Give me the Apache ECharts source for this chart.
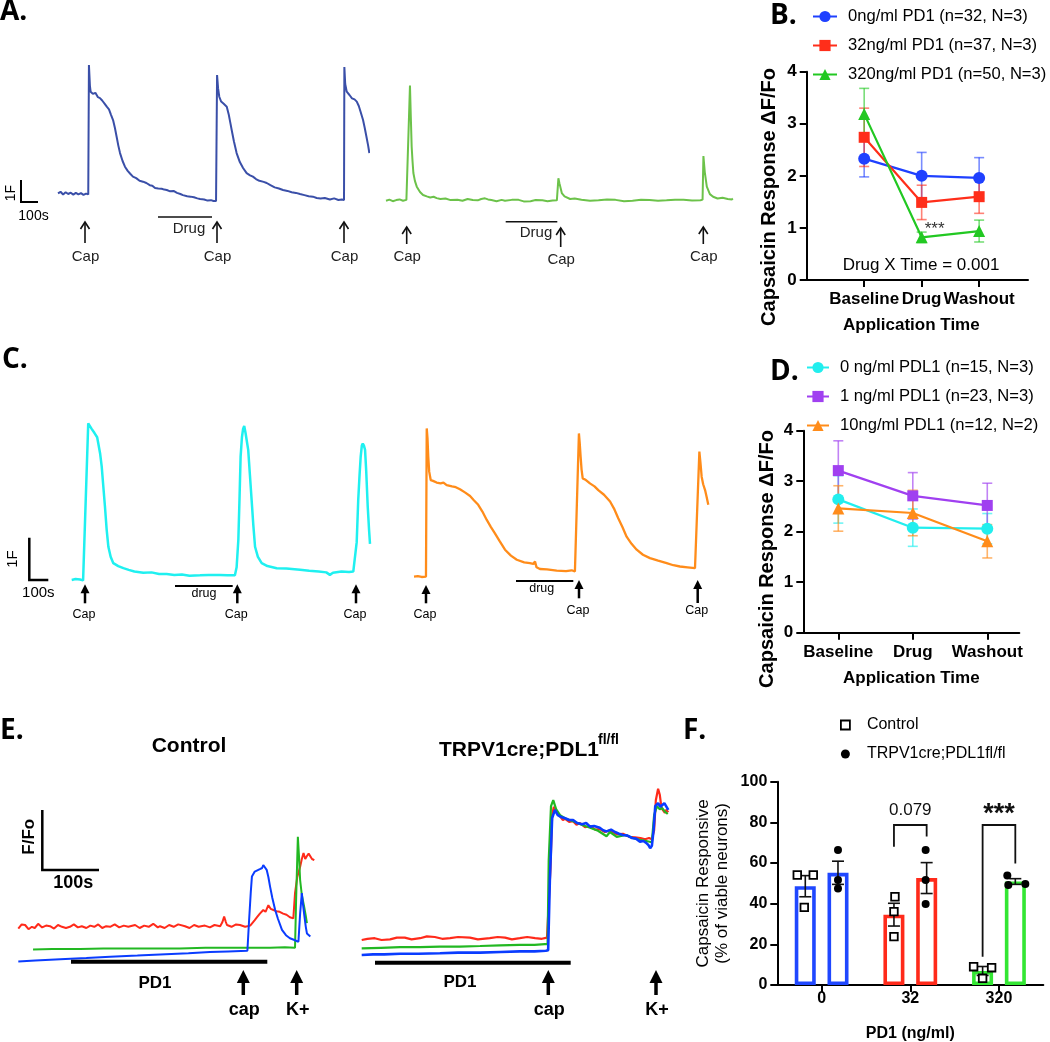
<!DOCTYPE html>
<html><head><meta charset="utf-8">
<script src="https://cdn.jsdelivr.net/npm/echarts@6/dist/echarts.min.js"></script>
<style>html,body{margin:0;padding:0;background:#fff}#c{width:1050px;height:1042px}</style>
</head><body><div id="c"></div><script>
// ---------------- DATA ----------------
// Panel A: calcium traces [time s, dF]
const aBlueTrace = [[0,0.03],[15,0.1],[30,-0.02],[45,0.08],[60,0.0],[75,0.06],[90,-0.03],[105,0.05],[120,-0.02],[135,0.04],[150,-0.04],[165,0.02],[178,-0.02],[182,5.86],[188,4.9],[192,4.65],[205,4.55],[220,4.6],[235,4.4],[247,4.36],[260,4.25],[275,4.1],[287,3.97],[300,3.85],[312,3.6],[324,3.36],[335,3.0],[345,2.6],[355,2.2],[365,1.86],[380,1.5],[394,1.24],[410,1.05],[425,0.92],[441,0.79],[460,0.72],[480,0.6],[500,0.56],[520,0.5],[540,0.4],[555,0.38],[571,0.27],[590,0.25],[610,0.24],[625,0.2],[640,0.18],[660,0.12],[680,0.14],[700,0.05],[720,0.0],[735,-0.05],[760,-0.1],[780,-0.12],[800,-0.15],[820,-0.2],[836,-0.23],[860,-0.25],[880,-0.3],[900,-0.28],[915,-0.32],[930,-0.32],[936,5.41],[942,4.8],[949,4.42],[960,4.2],[975,4.1],[993,3.97],[1005,3.6],[1015,3.2],[1022,2.91],[1035,2.4],[1051,1.86],[1070,1.45],[1089,1.18],[1110,0.95],[1130,0.85],[1147,0.79],[1165,0.68],[1185,0.6],[1210,0.55],[1228,0.5],[1250,0.4],[1275,0.3],[1300,0.25],[1324,0.18],[1350,0.14],[1375,0.08],[1400,0.05],[1424,0.0],[1450,-0.05],[1475,-0.1],[1500,-0.12],[1522,-0.18],[1545,-0.2],[1570,-0.18],[1600,-0.25],[1625,-0.2],[1650,-0.27],[1670,-0.25],[1683,-0.27],[1685,5.77],[1690,5.0],[1699,4.65],[1715,4.5],[1730,4.35],[1745,4.3],[1758,4.2],[1770,4.0],[1780,3.75],[1795,3.36],[1805,3.0],[1815,2.6],[1825,2.2],[1832,1.86]];
const aGreenTrace = [[0,0.0],[20,0.05],[40,-0.02],[60,0.03],[80,0.06],[100,0.0],[120,0.04],[131,0.01],[141,5.23],[146,3.8],[151,2.45],[156,1.8],[161,1.26],[170,0.9],[181,0.64],[200,0.4],[218,0.26],[240,0.2],[260,0.15],[280,0.18],[298,0.12],[320,0.08],[350,0.1],[380,0.03],[420,0.05],[450,0.0],[480,0.08],[510,0.03],[540,0.02],[560,0.08],[582,0.11],[600,0.06],[620,0.03],[650,-0.02],[680,0.04],[700,0.0],[740,0.04],[780,0.04],[810,-0.03],[850,-0.02],[880,0.03],[920,0.02],[950,-0.02],[980,0.01],[1005,0.02],[1010,0.05],[1014,1.02],[1020,0.8],[1034,0.35],[1050,0.2],[1083,0.08],[1110,0.1],[1150,0.05],[1200,0.0],[1250,0.02],[1300,0.06],[1350,0.04],[1400,-0.02],[1450,0.0],[1500,0.05],[1550,0.03],[1600,0.0],[1650,0.02],[1700,0.05],[1750,0.04],[1800,0.01],[1850,0.02],[1862,0.05],[1867,2.03],[1875,1.3],[1887,0.64],[1905,0.3],[1924,0.18],[1950,0.1],[1980,0.14],[2010,0.08],[2034,0.06],[2040,0.1]];
// Panel C traces
const cCyanTrace = [[0,0],[20,0.02],[44,0.01],[60,-0.01],[70,0],[87,3.73],[96,3.69],[105,3.6],[114,3.61],[120,3.5],[128,3.52],[134,3.4],[140,3.25],[150,3.0],[158,2.7],[166,2.25],[175,1.75],[184,1.2],[193,0.79],[205,0.55],[219,0.4],[245,0.33],[272,0.28],[300,0.24],[330,0.2],[377,0.17],[420,0.18],[460,0.14],[500,0.14],[540,0.12],[580,0.13],[620,0.1],[675,0.11],[720,0.12],[780,0.12],[820,0.11],[859,0.11],[868,0.3],[877,0.95],[883,1.9],[889,2.94],[896,3.4],[902,3.6],[908,3.67],[915,3.5],[922,3.3],[929,3.1],[938,2.5],[947,1.9],[956,1.3],[965,0.79],[980,0.55],[1000,0.4],[1030,0.33],[1079,0.28],[1130,0.27],[1202,0.24],[1250,0.22],[1300,0.2],[1340,0.18],[1359,0.12],[1375,0.17],[1420,0.2],[1460,0.19],[1482,0.2],[1491,0.2],[1500,0.9],[1508,1.9],[1515,2.5],[1521,2.94],[1527,3.2],[1532,3.25],[1538,3.2],[1544,3.1],[1550,2.6],[1558,1.75],[1565,1.2],[1570,0.86]];
const cOrangeTrace = [[0,0],[20,0.01],[40,-0.01],[63,0],[67,3.53],[71,3.3],[75,2.86],[80,2.5],[88,2.3],[100,2.28],[119,2.24],[140,2.22],[155,2.24],[172,2.18],[200,2.15],[220,2.13],[242,2.08],[270,2.0],[295,1.92],[315,1.82],[338,1.71],[360,1.55],[383,1.35],[405,1.18],[426,1.03],[450,0.85],[479,0.64],[510,0.5],[541,0.4],[580,0.34],[610,0.32],[628,0.3],[637,0.36],[645,0.22],[663,0.18],[700,0.17],[751,0.14],[800,0.13],[830,0.15],[847,0.12],[856,0.14],[868,3.41],[872,3.2],[877,2.86],[882,2.55],[888,2.34],[905,2.3],[926,2.22],[950,2.15],[970,2.06],[1000,1.95],[1032,1.79],[1055,1.6],[1075,1.39],[1097,1.18],[1119,0.95],[1145,0.78],[1172,0.64],[1205,0.52],[1242,0.44],[1285,0.38],[1330,0.32],[1365,0.27],[1400,0.24],[1440,0.22],[1479,0.2],[1488,0.21],[1502,2.98],[1508,2.7],[1514,2.38],[1522,2.2],[1532,2.06],[1540,1.9],[1549,1.71]];
// Panel E traces [time s, F/Fo (offset)]
const eCtrlRed = [[0,0.69],[6,0.76],[12,0.75],[18,0.68],[24,0.72],[29,0.7],[35,0.77],[42,0.71],[49,0.74],[56,0.73],[63,0.69],[70,0.75],[77,0.72],[84,0.7],[91,0.72],[98,0.76],[105,0.71],[112,0.73],[120,0.7],[127,0.74],[134,0.72],[141,0.76],[148,0.7],[155,0.73],[162,0.72],[170,0.76],[178,0.71],[186,0.74],[194,0.72],[206,0.75],[214,0.7],[222,0.74],[230,0.72],[238,0.77],[246,0.71],[250,0.73],[258,0.7],[266,0.75],[274,0.72],[282,0.76],[294,0.73],[302,0.7],[310,0.75],[318,0.72],[329,0.74],[338,0.71],[346,0.75],[356,0.73],[360,0.8],[363,0.89],[366,0.8],[368,0.75],[376,0.72],[384,0.76],[391,0.75],[400,0.72],[409,0.74],[417,0.83],[421,0.88],[426,0.94],[432,1.0],[436,0.97],[441,1.08],[445,1.02],[450,1.0],[455,0.98],[461,0.97],[467,0.94],[473,0.92],[479,0.88],[485,0.86],[488,1.28],[492,1.55],[497,1.72],[500,1.85],[503,1.95],[506,1.85],[509,1.9],[512,1.94],[515,1.92],[518,1.85],[522,1.83]];
const eCtrlGreen = [[26,0.34],[60,0.35],[109,0.35],[150,0.36],[197,0.36],[240,0.36],[285,0.36],[330,0.37],[374,0.37],[410,0.37],[444,0.37],[470,0.38],[488,0.37],[490,1.2],[493,2.22],[495,1.9],[497,1.5],[500,1.25],[504,1.06],[507,0.9],[509,0.78]];
const eCtrlBlue = [[0,0.14],[30,0.16],[74,0.18],[120,0.2],[162,0.22],[210,0.24],[250,0.26],[300,0.28],[338,0.3],[370,0.31],[404,0.32],[407,0.83],[410,1.3],[412,1.56],[417,1.64],[420,1.62],[426,1.68],[430,1.7],[432,1.75],[435,1.72],[438,1.67],[441,1.55],[444,1.39],[448,1.2],[453,1.0],[458,0.85],[465,0.67],[472,0.58],[479,0.53],[487,0.5],[494,0.47],[497,0.94],[500,1.28],[502,1.1],[504,0.94],[507,0.72],[509,0.61],[512,0.58],[515,0.56]];
const eKoRed = [[0,0.5],[10,0.52],[23,0.53],[35,0.5],[50,0.51],[62,0.54],[76,0.54],[88,0.51],[103,0.53],[115,0.56],[129,0.55],[142,0.52],[156,0.53],[170,0.55],[191,0.54],[205,0.51],[226,0.53],[240,0.55],[253,0.54],[265,0.51],[279,0.53],[292,0.55],[306,0.53],[318,0.52],[327,0.54],[330,0.53],[333,1.67],[336,2.58],[339,2.72],[343,2.63],[347,2.6],[350,2.57],[355,2.5],[359,2.52],[366,2.47],[373,2.48],[379,2.42],[385,2.45],[394,2.38],[403,2.4],[412,2.34],[420,2.35],[429,2.3],[438,2.33],[450,2.26],[461,2.27],[472,2.22],[482,2.21],[492,2.2],[500,2.18],[507,2.2],[512,2.18],[516,2.33],[519,2.83],[523,3.02],[526,2.92],[529,2.7],[532,2.73],[535,2.62],[537,2.67],[541,2.63]];
const eKoGreen = [[0,0.36],[34,0.37],[68,0.38],[103,0.38],[138,0.39],[173,0.39],[209,0.4],[244,0.41],[279,0.42],[305,0.42],[323,0.43],[328,0.43],[330,1.83],[334,2.73],[338,2.83],[343,2.68],[350,2.58],[360,2.52],[373,2.48],[388,2.42],[403,2.37],[417,2.32],[432,2.23],[438,2.3],[450,2.22],[466,2.25],[478,2.2],[491,2.17],[502,2.15],[512,2.13],[516,2.58],[521,2.73],[526,2.68],[530,2.7],[535,2.64],[540,2.6]];
const eKoBlue = [[0,0.25],[20,0.26],[40,0.26],[68,0.27],[100,0.27],[138,0.28],[170,0.29],[209,0.29],[245,0.3],[279,0.31],[305,0.31],[325,0.32],[329,0.33],[332,1.5],[336,2.53],[341,2.67],[346,2.58],[352,2.55],[359,2.53],[366,2.5],[373,2.5],[380,2.45],[389,2.43],[396,2.45],[403,2.39],[410,2.4],[420,2.37],[426,2.33],[432,2.31],[440,2.34],[447,2.3],[454,2.27],[461,2.25],[469,2.24],[477,2.2],[484,2.19],[491,2.14],[497,2.15],[502,2.12],[506,2.08],[509,2.03],[512,2.07],[515,2.33],[518,2.73],[523,2.78],[527,2.72],[530,2.73],[534,2.78],[537,2.75],[541,2.67]];

// Panel B
const timeLabels = ['Baseline','Drug','Washout'];
const pd1Names = ['0ng/ml PD1 (n=32, N=3)','32ng/ml PD1 (n=37, N=3)','320ng/ml PD1 (n=50, N=3)'];
const bMean0 = [2.33, 2.00, 1.96];
const bSem0 = [0.35, 0.45, 0.39];
const bMean32 = [2.74, 1.49, 1.60];
const bSem32 = [0.56, 0.33, 0.32];
const bMean320 = [3.19, 0.82, 0.94];
const bSem320 = [0.49, 0.10, 0.21];
// Panel D
const pdl1Names = ['0 ng/ml PDL1 (n=15, N=3)','1 ng/ml PDL1 (n=23, N=3)','10ng/ml PDL1 (n=12, N=2)'];
const dMean0 = [2.64, 2.08, 2.06];
const dSem0 = [0.47, 0.37, 0.30];
const dMean1 = [3.21, 2.71, 2.52];
const dSem1 = [0.59, 0.46, 0.44];
const dMean10 = [2.46, 2.37, 1.81];
const dSem10 = [0.45, 0.45, 0.33];
// Panel F
const doseLabels = ['0','32','320'];
const fGroupNames = ['Control','TRPV1cre;PDL1fl/fl'];
const fCtrlMean = [48.6, 34.6, 6.9];
const fCtrlSem = [5.2, 5.6, 2.2];
const fKoMean = [55.2, 52.6, 50.9];
const fKoSem = [5.7, 7.6, 1.4];
const fCtrlPts = [[54.1,54.1,38.2],[43.4,36.1,23.8],[9.0,8.5,3.3]];
const fKoPts = [[66.4,51.6,47.5],[66.4,51.6,39.8],[53.8,49.2,49.7]];
const fBracketCat = [1, 2];
const fBracketTop = [78.7, 78.7];
const fBracketLeftEnd = [68, 13.9];
const fBracketRightEnd = [73, 59.8];
const fBracketText = ['0.079','***'];

// ---------------- LAYOUT / STYLE ----------------
const FF = "'Liberation Sans', Arial, Helvetica, sans-serif";
const fCtrlJitter = [[-8,8,-1],[1,0,0],[-9,9,0]];
const fKoJitter = [[0,0,0],[-1,-1,-1],[-8,-7,10]];
const fBarHalf = 16.35;
const fColors = ['#1f47ff','#ff2a1a','#33e633'];
const bColors = ['#1f40ff','#ff2e1a','#22c822'];
const dColors = ['#22eeee','#a040f0','#ff8c1a'];

const chart = echarts.init(document.getElementById('c'), null, {renderer:'canvas', width:1050, height:1042});

const grids = [
  {left:58, top:62, width:311, height:143},
  {left:386, top:62, width:347, height:148},
  {left:806.7, top:71.7, width:221.3, height:208.3},
  {left:71.7, top:415, width:298.3, height:175},
  {left:414, top:415, width:294.3, height:175},
  {left:803.3, top:430.7, width:216, height:202},
  {left:18.3, top:780, width:296, height:190},
  {left:361.7, top:780, width:306.6, height:190},
  {left:777.3, top:781.7, width:266, height:203.3}
].map(g => Object.assign({outerBoundsMode:'none', containLabel:false}, g));

function hiddenX(min, max){ return {type:'value', min, max, show:false}; }
function hiddenY(min, max){ return {type:'value', min, max, show:false}; }
const axLine = {show:true, onZero:false, lineStyle:{color:'#000', width:2}};
const axTick = {show:true, length:7, lineStyle:{color:'#000', width:2}};
const boldLbl = {color:'#000', fontSize:17, fontWeight:'bold', fontFamily:FF};

function timeAxis(gi, min, max, nameGap, pad){
  return {type:'value', gridIndex:gi, min, max, interval:1,
    axisLine:axLine, splitLine:{show:false},
    axisTick:Object.assign({customValues:[1,2,3]}, axTick),
    axisLabel:Object.assign({customValues:[1,2,3], margin:11,
      formatter:v => timeLabels[Math.round(v)-1] || ''}, boldLbl),
    name:'Application Time', nameLocation:'middle', nameGap,
    nameTextStyle:Object.assign({padding:pad}, boldLbl)};
}
function respAxis(gi){
  return {type:'value', gridIndex:gi, min:0, max:4, interval:1,
    axisLine:axLine, axisTick:axTick, splitLine:{show:false},
    axisLabel:Object.assign({margin:10}, boldLbl)};
}

const xAxes = [
  Object.assign(hiddenX(0,1830),{gridIndex:0}),
  Object.assign(hiddenX(0,2041),{gridIndex:1}),
  timeAxis(2, 0, 3.85, 37, [0,12,0,0]),
  Object.assign(hiddenX(0,1570),{gridIndex:3}),
  Object.assign(hiddenX(0,1549),{gridIndex:4}),
  timeAxis(5, 0.53, 3.43, 37, [0,0,0,0]),
  Object.assign(hiddenX(0,522),{gridIndex:6}),
  Object.assign(hiddenX(0,541),{gridIndex:7}),
  {type:'category', gridIndex:8, data:doseLabels, boundaryGap:true,
   axisLine:axLine, axisTick:Object.assign({alignWithLabel:true}, axTick),
   axisLabel:Object.assign({margin:6}, boldLbl, {fontSize:16}),
   name:'PD1 (ng/ml)', nameLocation:'middle', nameGap:41,
   nameTextStyle:Object.assign({}, boldLbl, {fontSize:16})}
];
const yAxes = [
  Object.assign(hiddenY(-0.5,6.0),{gridIndex:0}),
  Object.assign(hiddenY(-0.42,6.3),{gridIndex:1}),
  respAxis(2),
  Object.assign(hiddenY(-0.24,3.93),{gridIndex:3}),
  Object.assign(hiddenY(-0.32,3.85),{gridIndex:4}),
  respAxis(5),
  Object.assign(hiddenY(0,3.1667),{gridIndex:6}),
  Object.assign(hiddenY(0,3.1667),{gridIndex:7}),
  {type:'value', gridIndex:8, min:0, max:100, interval:20,
   axisLine:axLine, axisTick:axTick, splitLine:{show:false},
   axisLabel:Object.assign({margin:10}, boldLbl, {fontSize:16}),
   name:'Capsaicin Responsive\n(% of viable neurons)', nameLocation:'middle', nameGap:45,
   nameTextStyle:{color:'#000', fontSize:17, fontFamily:FF, lineHeight:19, fontWeight:500}}
];

function trace(gi, data, color, width){
  return {type:'line', xAxisIndex:gi, yAxisIndex:gi, data, showSymbol:false, symbol:'none',
    silent:true, lineStyle:{color, width}, itemStyle:{color}, z:3};
}

function errRender(color, capHalf, lw){
  return function(params, api){
    const x = api.value(0), m = api.value(1), e = api.value(2);
    const pt = api.coord([x, m + e]), pb = api.coord([x, m - e]);
    const st = {stroke:color, lineWidth:lw};
    return {type:'group', children:[
      {type:'line', shape:{x1:pt[0], y1:pt[1], x2:pb[0], y2:pb[1]}, style:st},
      {type:'line', shape:{x1:pt[0]-capHalf, y1:pt[1], x2:pt[0]+capHalf, y2:pt[1]}, style:st},
      {type:'line', shape:{x1:pb[0]-capHalf, y1:pb[1], x2:pb[0]+capHalf, y2:pb[1]}, style:st}
    ]};
  };
}
function errSeries(gi, means, sems, color){
  return {type:'custom', xAxisIndex:gi, yAxisIndex:gi, silent:true, z:2,
    renderItem:errRender(color, 5, 1.6), encode:{x:0, y:1},
    data: means.map((m,i)=>[i+1, m, sems[i]])};
}
function meanSeries(gi, name, means, color, symbol, size){
  return {type:'line', name, xAxisIndex:gi, yAxisIndex:gi, data: means.map((m,i)=>[i+1,m]),
    symbol, symbolSize:size, showSymbol:true, lineStyle:{color, width:2.2}, itemStyle:{color},
    z:4, silent:true};
}

const series = [];
series.push(trace(0, aBlueTrace, '#3a4fa8', 2));
series.push(trace(1, aGreenTrace, '#6cc24a', 2));
series.push(trace(3, cCyanTrace, '#1ff0f0', 2.5));
series.push(trace(4, cOrangeTrace, '#ff8c1a', 2.3));
series.push(trace(6, eCtrlRed, '#ff2a1a', 2));
series.push(trace(6, eCtrlGreen, '#22b822', 2));
series.push(trace(6, eCtrlBlue, '#0a3cff', 2));
series.push(trace(7, eKoRed, '#ff2a1a', 2.2));
series.push(trace(7, eKoGreen, '#22b822', 2.2));
series.push(trace(7, eKoBlue, '#0a3cff', 2.6));

// Panel B
const bMeans = [bMean0, bMean32, bMean320], bSems = [bSem0, bSem32, bSem320];
const bSymbols = ['circle','rect','triangle'], bSizes = [12, 11, 12];
for (let k=0;k<3;k++){
  series.push(errSeries(2, bMeans[k], bSems[k], echarts.color.modifyAlpha(bColors[k], 0.6)));
}
for (let k=0;k<3;k++){
  const s = meanSeries(2, pd1Names[k], bMeans[k], bColors[k], bSymbols[k], bSizes[k]);
  if (k===2){
    s.data[1] = {value:s.data[1], label:{show:true, formatter:'***', position:'right', distance:2,
      offset:[-5,-8], fontSize:17, color:'#333', fontFamily:FF}};
  }
  series.push(s);
}
// Panel D
const dMeans = [dMean0, dMean1, dMean10], dSems = [dSem0, dSem1, dSem10];
for (let k=0;k<3;k++){
  series.push(errSeries(5, dMeans[k], dSems[k], echarts.color.modifyAlpha(dColors[k], 0.65)));
}
for (let k=0;k<3;k++){
  series.push(meanSeries(5, pdl1Names[k], dMeans[k], dColors[k], bSymbols[k], bSizes[k]));
}
// Panel F bars
function barData(means){
  return means.map((v,i)=>({value:v, itemStyle:{color:'#fff', borderColor:fColors[i], borderWidth:3.6}}));
}
series.push({type:'bar', name:'ctrlBar', xAxisIndex:8, yAxisIndex:8, barWidth:21, barGap:'56%',
  data:barData(fCtrlMean), silent:true, z:2});
series.push({type:'bar', name:'koBar', xAxisIndex:8, yAxisIndex:8, barWidth:21, barGap:'56%',
  data:barData(fKoMean), silent:true, z:2});
// F error bars
function fErr(means, sems, side){
  return {type:'custom', xAxisIndex:8, yAxisIndex:8, silent:true, z:5, encode:{x:0,y:1},
    data: means.map((m,i)=>[i, m, sems[i], side*fBarHalf]),
    renderItem:function(params, api){
      const c = api.value(0), m = api.value(1), e = api.value(2), off = api.value(3);
      const pt = api.coord([c, m+e]), pb = api.coord([c, m-e]);
      const x = pt[0] + off, st = {stroke:'#111', lineWidth:1.6};
      return {type:'group', children:[
        {type:'line', shape:{x1:x, y1:pt[1], x2:x, y2:pb[1]}, style:st},
        {type:'line', shape:{x1:x-6, y1:pt[1], x2:x+6, y2:pt[1]}, style:st},
        {type:'line', shape:{x1:x-6, y1:pb[1], x2:x+6, y2:pb[1]}, style:st}
      ]};
    }};
}
series.push(fErr(fCtrlMean, fCtrlSem, -1));
series.push(fErr(fKoMean, fKoSem, 1));
// F points
function fPts(name, pts, jit, side, isSquare){
  const data = [];
  pts.forEach((arr, i)=>arr.forEach((v, j)=>data.push([i, v, side*fBarHalf + jit[i][j]])));
  return {type:'custom', name, xAxisIndex:8, yAxisIndex:8, silent:true, z:6, encode:{x:0,y:1},
    itemStyle:{color: isSquare ? '#fff' : '#000', borderColor:'#000'},
    data,
    renderItem:function(params, api){
      const p = api.coord([api.value(0), api.value(1)]);
      const x = p[0] + api.value(2), y = p[1];
      if (isSquare) return {type:'rect', shape:{x:x-3.8, y:y-3.8, width:7.6, height:7.6},
        style:{fill:'#fff', stroke:'#000', lineWidth:1.8}};
      return {type:'circle', shape:{cx:x, cy:y, r:4}, style:{fill:'#000'}};
    }};
}
series.push(fPts(fGroupNames[0], fCtrlPts, fCtrlJitter, -1, true));
series.push(fPts(fGroupNames[1], fKoPts, fKoJitter, 1, false));
// F brackets
series.push({type:'custom', xAxisIndex:8, yAxisIndex:8, silent:true, z:6, encode:{x:0,y:1},
  data: fBracketCat.map((c,i)=>[c, fBracketTop[i], fBracketLeftEnd[i], fBracketRightEnd[i], i]),
  renderItem:function(params, api){
    const c = api.value(0), idx = api.value(4);
    const pTop = api.coord([c, api.value(1)]);
    const yl = api.coord([c, api.value(2)])[1], yr = api.coord([c, api.value(3)])[1];
    const xl = pTop[0]-fBarHalf, xr = pTop[0]+fBarHalf;
    const t = fBracketText[idx];
    const star = t === '***';
    return {type:'group', children:[
      {type:'polyline', shape:{points:[[xl,yl],[xl,pTop[1]],[xr,pTop[1]],[xr,yr]]},
        style:{stroke:'#111', lineWidth:1.8, fill:null}},
      {type:'text', x:pTop[0], y:pTop[1] - (star ? 10 : 15),
        style:{text:t, fill:'#111', fontSize: star ? 27 : 17, fontWeight: star ? 'bold' : 'normal',
          fontFamily:FF, align:'center', verticalAlign:'middle', textAlign:'center', textVerticalAlign:'middle'}}
    ]};
  }});

// ---------------- ANNOTATIONS ----------------
const G = [];
function T(x, y, text, size, opts){
  opts = opts || {};
  G.push({type:'text', x, y, rotation: opts.rot || 0, silent:true, z:10,
    style:{text, fill: opts.color || '#000', fontSize:size, fontWeight: opts.bold ? 'bold' : 'normal',
      fontFamily: opts.font || FF, align: opts.align || 'center', verticalAlign:'middle',
      textAlign: opts.align || 'center', textVerticalAlign:'middle'}});
}
function L(points, lw, color){
  G.push({type:'polyline', silent:true, z:10, shape:{points}, style:{stroke: color || '#000', lineWidth:lw, fill:null}});
}
function thinArrow(x, y0, y1){
  L([[x,y0],[x,y1]], 1.6, '#111');
  L([[x-4.5,y0+7],[x,y0],[x+4.5,y0+7]], 1.6, '#111');
}
function boldArrow(x, y0, y1, w, h, lw){
  G.push({type:'polygon', silent:true, z:10, shape:{points:[[x-w/2,y0+h],[x,y0],[x+w/2,y0+h]]}, style:{fill:'#000'}});
  L([[x,y0+h-1],[x,y1]], lw);
}
const LF = "'Open Sans', 'Liberation Sans', sans-serif";
// panel letters
T(0, 12, 'A.', 28, {bold:true, align:'left', font:LF});
T(770, 16, 'B.', 28, {bold:true, align:'left', font:LF});
T(2, 360, 'C.', 28, {bold:true, align:'left', font:LF});
T(770, 372, 'D.', 28, {bold:true, align:'left', font:LF});
T(0, 731, 'E.', 28, {bold:true, align:'left', font:LF});
T(683, 731, 'F.', 28, {bold:true, align:'left', font:LF});
// A
L([[21,180],[21,202],[38,202]], 2);
T(11, 193, '1F', 14, {rot:Math.PI/2});
T(33.5, 216, '100s', 14);
[[85,222,243,257],[217,222,243,257],[344,222,243,257],[406.7,227,244,257],[560.7,228,247,260],[703.3,227,244,257]]
  .forEach(a=>{ thinArrow(a[0], a[1], a[2]); T(a[0]+0.5, a[3], 'Cap', 15, {color:'#222'}); });
L([[158,217],[212,217]], 1.6, '#111'); T(189, 228.5, 'Drug', 15, {color:'#222'});
L([[505.7,221.7],[557.3,221.7]], 1.6, '#111'); T(536, 232.7, 'Drug', 15, {color:'#222'});
// B text + y title
T(921, 265.7, 'Drug X Time = 0.001', 17);
T(769, 197, 'Capsaicin Response ΔF/Fo', 20, {bold:true, rot:Math.PI/2});
// D y title
T(767, 559, 'Capsaicin Response ΔF/Fo', 20, {bold:true, rot:Math.PI/2});
// C
L([[29.3,537.7],[29.3,580],[48.3,580]], 2.5);
T(13, 559, '1F', 15, {rot:Math.PI/2});
T(38.3, 593.3, '100s', 15);
[[85,584.3,603.3,614.3],[237.3,584.3,603.3,614.3],[356,584.3,603.3,614.3],[426,585,603.3,615],[579,580,598.3,611],[697.7,580,603,611]]
  .forEach(a=>{ boldArrow(a[0], a[1], a[2], 9, 9, 2.5); T(a[0]-1, a[3], 'Cap', 12.5); });
L([[175,586],[232.7,586]], 2); T(204, 593.5, 'drug', 12.5);
L([[516,581],[573.3,581]], 2); T(541.7, 589, 'drug', 12.5);
// E
T(189, 746.7, 'Control', 21, {bold:true});
T(439, 750, 'TRPV1cre;PDL1', 21, {bold:true, align:'left'});
T(598, 740, 'fl/fl', 14, {bold:true, align:'left'});
L([[42.3,810],[42.3,870],[99,870]], 2.5);
T(29, 836.7, 'F/Fo', 17, {bold:true, rot:Math.PI/2});
T(73.3, 883.3, '100s', 18, {bold:true});
L([[71,961.7],[267.3,961.7]], 4); T(155, 983.3, 'PD1', 17, {bold:true});
L([[375,962.7],[570.7,962.7]], 4); T(460, 982.7, 'PD1', 17, {bold:true});
[[243.3,'cap'],[296.7,'K+'],[548.3,'cap'],[656,'K+']].forEach(a=>{
  boldArrow(a[0], 970, 995, 13, 13, 3.5); T(a[0]+1, 1010, a[1], 18, {bold:true});
});

const legendText = {fontSize:16.6, color:'#000', fontFamily:FF, padding:[0,0,0,6]};
const option = {
  animation:false,
  backgroundColor:'#fff',
  grid: grids,
  xAxis: xAxes,
  yAxis: yAxes,
  legend:[
    {data:pd1Names, orient:'vertical', left:812, top:8, itemWidth:24, itemHeight:14, itemGap:12,
      selectedMode:false, textStyle:legendText, padding:0},
    {data:pdl1Names, orient:'vertical', left:806, top:359, itemWidth:22, itemHeight:14, itemGap:12,
      selectedMode:false, textStyle:legendText, padding:0},
    {data:[{name:fGroupNames[0], icon:'rect', itemStyle:{color:'#fff', borderColor:'#000', borderWidth:1.8}},
           {name:fGroupNames[1], icon:'circle', itemStyle:{color:'#000'}}],
      orient:'vertical', left:840, top:717, itemWidth:9, itemHeight:9, itemGap:13,
      selectedMode:false, textStyle:{fontSize:16, color:'#000', fontFamily:FF, padding:[0,0,0,12]}, padding:0}
  ],
  graphic: G,
  series
};
chart.setOption(option);
</script></body></html>
